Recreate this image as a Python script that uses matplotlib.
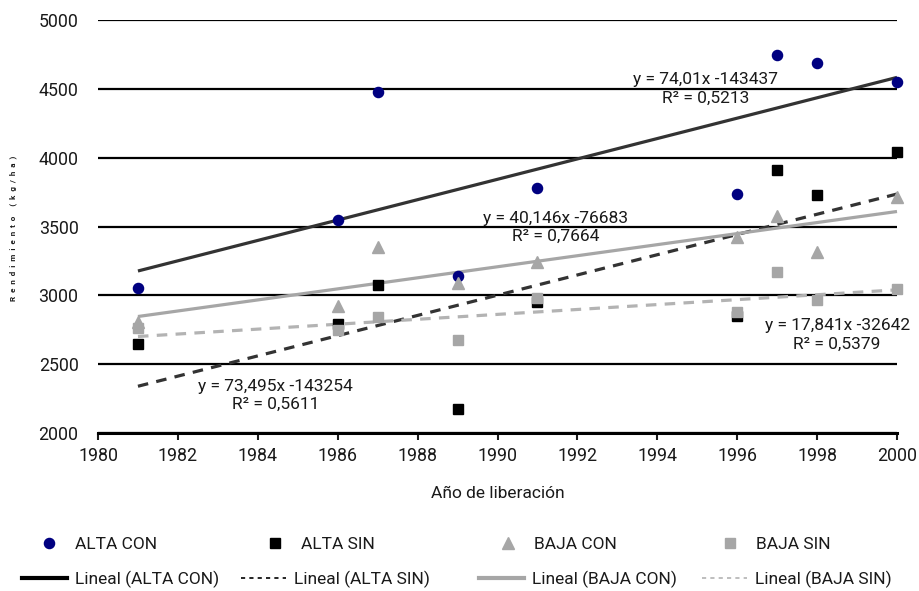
import numpy as np
import matplotlib
matplotlib.use("Agg")
import matplotlib.pyplot as plt
from matplotlib.lines import Line2D

plt.rcParams['font.family'] = ['Roboto', 'DejaVu Sans']

# ── data ─────────────────────────────────────────────────────────────────
years = [1981, 1986, 1987, 1989, 1991, 1996, 1997, 1998, 2000]
alta_con = [3056, 3547, 4477, 3141, 3782, 3734, 4748, 4685, 4547]
alta_sin = [2650, 2790, 3075, 2172, 2950, 2850, 3910, 3729, 4044]
baja_con = [2809, 2923, 3353, 3090, 3244, 3426, 3576, 3312, 3717]
baja_sin = [2760, 2748, 2840, 2676, 2978, 2877, 3172, 2966, 3046]

series_names = ["ALTA CON", "ALTA SIN", "BAJA CON", "BAJA SIN"]
# trend line coefficients as printed on the chart
slopes = [74.01, 73.495, 40.146, 17.841]
intercepts = [-143437, -143254, -76683, -32642]
eq_slope_txt = ["74,01", "73,495", "40,146", "17,841"]
eq_r2_txt = ["0,5213", "0,5611", "0,7664", "0,5379"]
# label anchor (year, value) for each equation
eq_pos = [(1995.2, 4500), (1984.45, 2276), (1991.46, 3496), (1998.5, 2712)]

W, H = 920, 591
fig = plt.figure(figsize=(W / 100, H / 100), dpi=100)
ax = fig.add_axes([98 / W, 1 - 433 / H, (897 - 98) / W, (433 - 20) / H])

ax.set_xlim(1980, 2000)
ax.set_ylim(2000, 5000)
ax.set_xticks(range(1980, 2001, 2))
ax.set_yticks(range(2000, 5001, 500))
ax.yaxis.grid(True, color='black', linewidth=1.6, zorder=0)
ax.set_axisbelow(True)
for side in ['top', 'right', 'left']:
    ax.spines[side].set_visible(False)
ax.spines['bottom'].set_linewidth(2.2)
ax.tick_params(axis='y', length=0, pad=14, labelsize=12.8, colors='#1a1a1a')
ax.tick_params(axis='x', length=5, width=1.5, direction='out', pad=5,
               labelsize=12.8, colors='#1a1a1a')

# trend lines
line_colors = ['#333333', '#333333', '#a6a6a6', '#b3b3b3']
line_dash = [None, (3.3, 2.6), None, (3.3, 2.6)]
x_fit = np.array([years[0], years[-1]])
for k in range(4):
    y_fit = slopes[k] * x_fit + intercepts[k]
    ln, = ax.plot(x_fit, y_fit, color=line_colors[k], linewidth=2.3,
                  solid_capstyle='butt', zorder=2, clip_on=False)
    if line_dash[k] is not None:
        ln.set_dashes(line_dash[k])

# scatter markers
ax.plot(years, alta_con, 'o', color='#000080', markersize=7.3, zorder=3, clip_on=False)
ax.plot(years, alta_sin, 's', color='black', markersize=7.3, zorder=3, clip_on=False)
ax.plot(years, baja_con, '^', color='#a6a6a6', markersize=8, zorder=3, clip_on=False)
ax.plot(years, baja_sin, 's', color='#a6a6a6', markersize=7.3, zorder=3, clip_on=False)

# equation labels
for k in range(4):
    ax.text(eq_pos[k][0], eq_pos[k][1],
            f"y = {eq_slope_txt[k]}x {intercepts[k]}\nR² = {eq_r2_txt[k]}",
            ha='center', va='center', fontsize=12.5, color='#1a1a1a',
            linespacing=1.25, zorder=4)

ax.set_xlabel("Año de liberación", fontsize=12.5, color='#1a1a1a', labelpad=15)
ylabel = "  ".join("Rendimiento (kg/ha)")
fig.text(13 / W, 1 - 228 / H, ylabel,
         rotation=90, ha='center', va='center', fontsize=5.8, fontweight='bold',
         color='#1a1a1a')

# legend, row 1: markers
marker_handles = [
    Line2D([], [], marker='o', color='#000080', linestyle='none', markersize=7.3),
    Line2D([], [], marker='s', color='black', linestyle='none', markersize=7.3),
    Line2D([], [], marker='^', color='#a6a6a6', linestyle='none', markersize=8),
    Line2D([], [], marker='s', color='#a6a6a6', linestyle='none', markersize=7.3),
]
row1_x = [40, 266, 499, 721]
for h, name, x0 in zip(marker_handles, series_names, row1_x):
    fig.legend(handles=[h], labels=[name], loc='center left',
               bbox_to_anchor=(x0 / W, 1 - 544 / H), frameon=False,
               fontsize=12.5, handlelength=1.0, handletextpad=1.0,
               borderpad=0, borderaxespad=0, labelcolor='#1a1a1a')

# legend, row 2: trend lines
trend_handles = [
    Line2D([], [], color='black', linewidth=3),
    Line2D([], [], color='black', linewidth=1.2, dashes=(2.5, 2.5)),
    Line2D([], [], color='#a6a6a6', linewidth=3),
    Line2D([], [], color='#b3b3b3', linewidth=1.2, dashes=(2.5, 2.5)),
]
row2_x = [22, 241, 479, 702]
for h, name, x0 in zip(trend_handles, series_names, row2_x):
    fig.legend(handles=[h], labels=[f"Lineal ({name})"], loc='center left',
               bbox_to_anchor=(x0 / W, 1 - 579 / H), frameon=False,
               fontsize=12.5, handlelength=2.6, handletextpad=0.45,
               borderpad=0, borderaxespad=0, labelcolor='#1a1a1a')

fig.savefig("out.png", dpi=100)
